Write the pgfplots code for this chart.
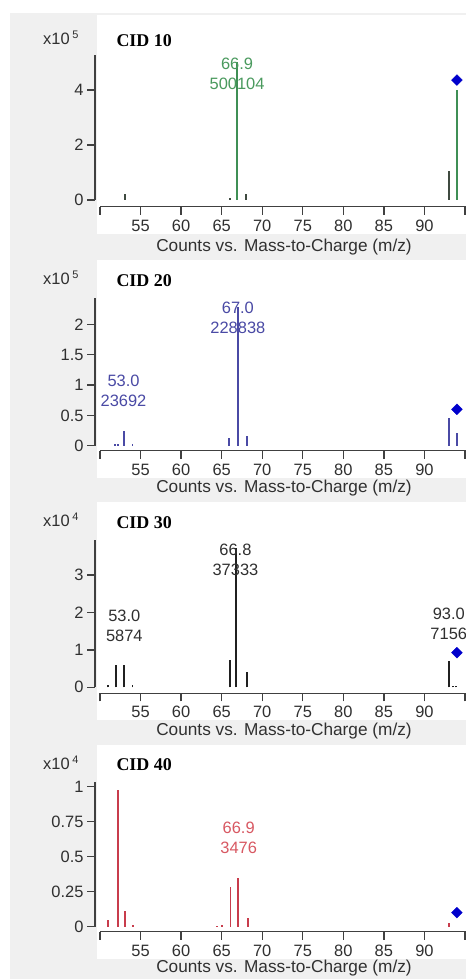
\documentclass[border=0pt]{standalone}
\usepackage{pgfplots}
\pgfplotsset{compat=1.18}
\usepackage{fontspec}
\setmainfont{Liberation Sans}
\newfontfamily\titlefont{Liberation Serif}
\definecolor{bggray}{HTML}{F0F0F0}
\definecolor{axcol}{HTML}{404040}
\definecolor{txtcol}{HTML}{303030}
\definecolor{cgreen}{HTML}{3F8F55}
\definecolor{cgreenlab}{HTML}{4A9A5E}
\definecolor{cdark}{HTML}{3F4A40}
\definecolor{cblue}{HTML}{4A4AA5}
\definecolor{cblack}{HTML}{202020}
\definecolor{cred}{HTML}{C83C4C}
\definecolor{credlab}{HTML}{D85862}
\definecolor{prec}{HTML}{0000CC}
\newcommand{\fs}{\fontsize{16.5}{20}\selectfont}
\newcommand{\xfs}{\fontsize{17.3}{20}\selectfont}
\newcommand{\tfs}{\titlefont\bfseries\fontsize{18}{20}\selectfont}
\pgfplotsset{
  msstyle/.style={
    scale only axis, width=365.8bp,
    xmin=50, xmax=95.1, ymin=0,
    axis lines*=left,
    axis line style={axcol, line width=1.4bp},
    tick style={axcol, line width=1.4bp},
    major tick length=8bp,
    tick align=outside,
    xtick={50,55,...,95},
    xticklabels={,55,60,65,70,75,80,85,90,},
    ticklabel style={font=\fs, text=txtcol},
    xticklabel style={yshift=-1.5bp},
    scaled y ticks=false, scaled x ticks=false,
    anchor=south west,
    clip=false,
  },
  peak/.style={ycomb, line width=1.8bp, mark=none},
  precursor/.style={only marks, mark=square*, mark size=3.8bp, mark options={rotate=45, fill=prec, draw=prec}},
}
\begin{document}
\begin{tikzpicture}[x=1bp,y=1bp]
\useasboundingbox (0,0) rectangle (466,979);
\fill[white] (0,0) rectangle (466,979);
\fill[bggray] (10,0) rectangle (466,966);
\fill[white] (97,745) rectangle (466,964);
\fill[white] (97,501) rectangle (466,719);
\fill[white] (97,259) rectangle (466,477);
\fill[white] (97,20) rectangle (466,234);

% ---------- CID 10 ----------
\begin{axis}[msstyle, at={(100bp,779bp)}, height=145bp, ymax=527000,
  ytick={0,200000,400000}, yticklabels={0,2,4},
  axis x line shift=6.7bp, axis y line shift=5bp]
\addplot[peak, cdark] coordinates {(53.1,20000) (66.0,6000) (68.0,22000) (93.0,105000)};
\addplot[peak, cgreen] coordinates {(66.9,500104) (94.0,400000)};
\addplot[precursor] coordinates {(94.0,436000)};
\node[font=\fs, text=cgreenlab, align=center] at (axis cs:66.9,458000) {66.9\\500104};
\end{axis}

% ---------- CID 20 ----------
\begin{axis}[msstyle, at={(100bp,533.3bp)}, height=147.4bp, ymax=243000,
  ytick={0,50000,100000,150000,200000}, yticklabels={0,0.5,1,1.5,2},
  axis x line shift=5bp, axis y line shift=5bp]
\addplot[peak, cblue] coordinates {(51.8,3000) (52.2,3000) (53.0,23692) (54.0,3000) (65.9,12000) (67.0,228838) (68.1,16000) (93.0,46000) (94.0,21000)};
\addplot[precursor] coordinates {(94.0,60000)};
\node[font=\fs, text=cblue, align=center] at (axis cs:67.0,211500) {67.0\\228838};
\node[font=\fs, text=cblue, align=center] at (axis cs:52.9,91000) {53.0\\23692};
\end{axis}

% ---------- CID 30 ----------
\begin{axis}[msstyle, at={(100bp,291.7bp)}, height=147.3bp, ymax=39400,
  ytick={0,10000,20000,30000}, yticklabels={0,1,2,3},
  axis x line shift=6bp, axis y line shift=5bp]
\addplot[peak, cblack] coordinates {(51.0,500) (52.0,5900) (53.0,5874) (54.0,500) (66.0,7200) (66.8,37333) (68.1,4200) (93.0,7156) (93.5,300) (93.9,300)};
\addplot[precursor] coordinates {(94.0,9250)};
\node[font=\fs, text=txtcol, align=center] at (axis cs:66.7,34000) {66.8\\37333};
\node[font=\fs, text=txtcol, align=center] at (axis cs:53.0,16500) {53.0\\5874};
\node[font=\fs, text=txtcol, align=center] at (axis cs:93.0,16900) {93.0\\7156};
\end{axis}

% ---------- CID 40 ----------
\begin{axis}[msstyle, at={(100bp,52.3bp)}, height=145bp, ymax=10360,
  ytick={0,2500,5000,7500,10000}, yticklabels={0,0.25,0.5,0.75,1},
  axis x line shift=5bp, axis y line shift=5bp]
\addplot[peak, cred] coordinates {(51.0,480) (52.2,9800) (53.1,1120) (54.1,100) (64.4,60) (65.0,150) (66.1,2830) (67.0,3476) (68.2,600) (93.0,250)};
\addplot[precursor] coordinates {(94.0,1000)};
\node[font=\fs, text=credlab, align=center] at (axis cs:67.1,6370) {66.9\\3476};
\end{axis}

% ---------- titles, exponents, x labels ----------
\node[anchor=base west, font=\tfs] at (113,932) {CID 10};
\node[anchor=base west, font=\tfs] at (113,692) {CID 20};
\node[anchor=base west, font=\tfs] at (113,450) {CID 30};
\node[anchor=base west, font=\tfs] at (113,208) {CID 40};
\node[anchor=base west, font=\fs, text=txtcol, inner sep=0pt] at (43,934) {x10\,\raisebox{6bp}{\fontsize{11}{12}\selectfont 5}};
\node[anchor=base west, font=\fs, text=txtcol, inner sep=0pt] at (43,694) {x10\,\raisebox{6bp}{\fontsize{11}{12}\selectfont 5}};
\node[anchor=base west, font=\fs, text=txtcol, inner sep=0pt] at (43,452) {x10\,\raisebox{6bp}{\fontsize{11}{12}\selectfont 4}};
\node[anchor=base west, font=\fs, text=txtcol, inner sep=0pt] at (43,209) {x10\,\raisebox{6bp}{\fontsize{11}{12}\selectfont 4}};
\node[font=\xfs, text=txtcol] at (284,731.5) {Counts vs. Mass-to-Charge (m/z)};
\node[font=\xfs, text=txtcol] at (284,490.5) {Counts vs. Mass-to-Charge (m/z)};
\node[font=\xfs, text=txtcol] at (284,247.5) {Counts vs. Mass-to-Charge (m/z)};
\node[font=\xfs, text=txtcol] at (284,11) {Counts vs. Mass-to-Charge (m/z)};
\end{tikzpicture}
\end{document}
